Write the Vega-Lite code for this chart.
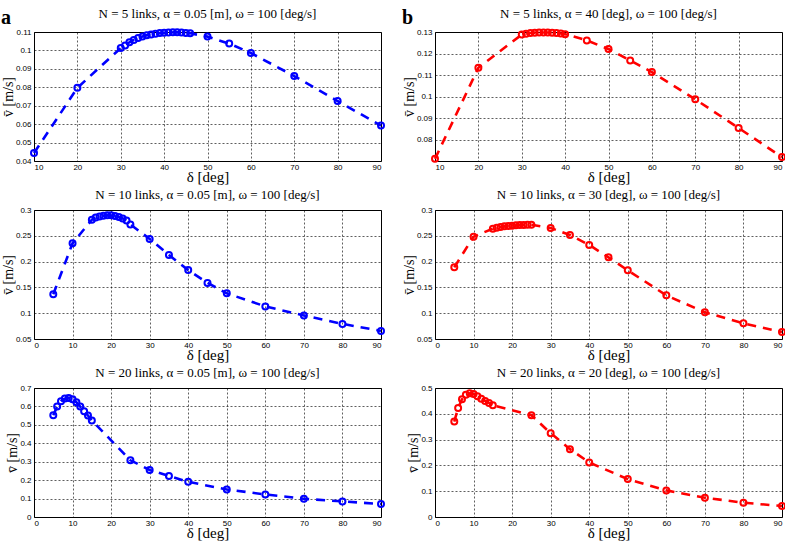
{
  "$schema": "https://vega.github.io/schema/vega-lite/v6.json",
  "background": "white",
  "padding": {"left": 0, "top": 7, "right": 0, "bottom": 0},
  "spacing": 12,
  "config": {
    "view": {"stroke": "black", "strokeWidth": 1},
    "axis": {
      "grid": true, "gridColor": "black", "gridDash": [2, 2], "gridOpacity": 0.9, "gridWidth": 0.7,
      "domain": false, "ticks": false, "labelPadding": 3,
      "labelFont": "Liberation Sans", "labelFontSize": 8, "labelColor": "black",
      "titleFont": "Liberation Serif", "titleFontWeight": "normal", "titleFontSize": 15, "titleColor": "black"
    },
    "axisX": {"titlePadding": -2, "labelPadding": 2},
    "axisY": {"titlePadding": 0, "titleFontSize": 14},
    "title": {"font": "Liberation Serif", "fontSize": 13, "fontWeight": "normal", "color": "black", "offset": 4},
    "line": {"strokeWidth": 2.6, "strokeDash": [9, 7]},
    "point": {"filled": false, "size": 36, "strokeWidth": 2, "opacity": 1}
  },
  "datasets": {
    "a1": [
      {"delta": 10, "v": 0.0443}, {"delta": 20, "v": 0.0797}, {"delta": 30, "v": 0.1013},
      {"delta": 31, "v": 0.1027}, {"delta": 32, "v": 0.1044}, {"delta": 33, "v": 0.1057},
      {"delta": 34, "v": 0.1067}, {"delta": 35, "v": 0.1075}, {"delta": 36, "v": 0.1082},
      {"delta": 37, "v": 0.1087}, {"delta": 38, "v": 0.1091}, {"delta": 39, "v": 0.1094},
      {"delta": 40, "v": 0.1096}, {"delta": 41, "v": 0.1097}, {"delta": 42, "v": 0.1098},
      {"delta": 43, "v": 0.1098}, {"delta": 44, "v": 0.1097}, {"delta": 45, "v": 0.1095},
      {"delta": 46, "v": 0.1093}, {"delta": 50, "v": 0.1075}, {"delta": 55, "v": 0.1037},
      {"delta": 60, "v": 0.0986}, {"delta": 70, "v": 0.0861}, {"delta": 80, "v": 0.0725},
      {"delta": 90, "v": 0.0592}
    ],
    "a2": [
      {"delta": 5, "v": 0.1366}, {"delta": 10, "v": 0.2355}, {"delta": 15, "v": 0.2811},
      {"delta": 16, "v": 0.2857}, {"delta": 17, "v": 0.2876}, {"delta": 18, "v": 0.2889},
      {"delta": 19, "v": 0.2896}, {"delta": 20, "v": 0.2896}, {"delta": 21, "v": 0.2883},
      {"delta": 22, "v": 0.2863}, {"delta": 23, "v": 0.2837}, {"delta": 24, "v": 0.2798},
      {"delta": 25, "v": 0.272}, {"delta": 30, "v": 0.244}, {"delta": 35, "v": 0.2128},
      {"delta": 40, "v": 0.1835}, {"delta": 45, "v": 0.1587}, {"delta": 50, "v": 0.1385},
      {"delta": 60, "v": 0.1132}, {"delta": 70, "v": 0.0956}, {"delta": 80, "v": 0.0793},
      {"delta": 90, "v": 0.0656}
    ],
    "a3": [
      {"delta": 5, "v": 0.5524}, {"delta": 6, "v": 0.5992}, {"delta": 7, "v": 0.628},
      {"delta": 8, "v": 0.6424}, {"delta": 9, "v": 0.646}, {"delta": 10, "v": 0.6388},
      {"delta": 11, "v": 0.6226}, {"delta": 12, "v": 0.5992}, {"delta": 13, "v": 0.574},
      {"delta": 14, "v": 0.5506}, {"delta": 15, "v": 0.5236}, {"delta": 25, "v": 0.3077},
      {"delta": 30, "v": 0.2555}, {"delta": 35, "v": 0.2231}, {"delta": 40, "v": 0.1907},
      {"delta": 50, "v": 0.1493}, {"delta": 60, "v": 0.1223}, {"delta": 70, "v": 0.099},
      {"delta": 80, "v": 0.0846}, {"delta": 90, "v": 0.0702}
    ],
    "b1": [
      {"delta": 10, "v": 0.0712}, {"delta": 20, "v": 0.1134}, {"delta": 30, "v": 0.1288},
      {"delta": 31, "v": 0.1292}, {"delta": 32, "v": 0.1295}, {"delta": 33, "v": 0.1297},
      {"delta": 34, "v": 0.1298}, {"delta": 35, "v": 0.1298}, {"delta": 36, "v": 0.1298},
      {"delta": 37, "v": 0.1297}, {"delta": 38, "v": 0.1295}, {"delta": 39, "v": 0.1293},
      {"delta": 40, "v": 0.129}, {"delta": 45, "v": 0.1261}, {"delta": 50, "v": 0.1221},
      {"delta": 55, "v": 0.1168}, {"delta": 60, "v": 0.1114}, {"delta": 70, "v": 0.0988},
      {"delta": 80, "v": 0.0855}, {"delta": 90, "v": 0.072}
    ],
    "b2": [
      {"delta": 5, "v": 0.1889}, {"delta": 10, "v": 0.2483}, {"delta": 15, "v": 0.2638},
      {"delta": 16, "v": 0.2658}, {"delta": 17, "v": 0.267}, {"delta": 18, "v": 0.2683},
      {"delta": 19, "v": 0.269}, {"delta": 20, "v": 0.2696}, {"delta": 21, "v": 0.2703},
      {"delta": 22, "v": 0.2709}, {"delta": 23, "v": 0.2711}, {"delta": 24, "v": 0.2712},
      {"delta": 25, "v": 0.2716}, {"delta": 30, "v": 0.2651}, {"delta": 35, "v": 0.2516},
      {"delta": 40, "v": 0.2322}, {"delta": 45, "v": 0.2083}, {"delta": 50, "v": 0.1831},
      {"delta": 60, "v": 0.1346}, {"delta": 70, "v": 0.1017}, {"delta": 80, "v": 0.0804},
      {"delta": 90, "v": 0.0636}
    ],
    "b3": [
      {"delta": 5, "v": 0.3698}, {"delta": 6, "v": 0.4227}, {"delta": 7, "v": 0.4562},
      {"delta": 8, "v": 0.4742}, {"delta": 9, "v": 0.4794}, {"delta": 10, "v": 0.4768},
      {"delta": 11, "v": 0.4678}, {"delta": 12, "v": 0.4588}, {"delta": 13, "v": 0.4497},
      {"delta": 14, "v": 0.442}, {"delta": 15, "v": 0.433}, {"delta": 25, "v": 0.3943},
      {"delta": 30, "v": 0.3247}, {"delta": 35, "v": 0.2629}, {"delta": 40, "v": 0.2113},
      {"delta": 50, "v": 0.1469}, {"delta": 60, "v": 0.1031}, {"delta": 70, "v": 0.0747},
      {"delta": 80, "v": 0.0554}, {"delta": 90, "v": 0.0425}
    ]
  },
  "hconcat": [
    {
      "title": {"text": "a", "anchor": "start", "frame": "bounds", "font": "Liberation Serif", "fontSize": 20, "fontWeight": "bold", "offset": -20},
      "spacing": 3,
      "vconcat": [
        {
          "width": 347, "height": 129,
          "title": "N = 5 links, α = 0.05 [m], ω = 100 [deg/s]",
          "data": {"name": "a1"},
          "encoding": {
            "x": {"field": "delta", "type": "quantitative", "scale": {"domain": [10, 90], "nice": false}, "axis": {"title": "δ [deg]", "values": [10, 20, 30, 40, 50, 60, 70, 80, 90]}},
            "y": {"field": "v", "type": "quantitative", "scale": {"domain": [0.04, 0.11], "nice": false, "zero": false}, "axis": {"title": "v̄ [m/s]", "values": [0.04, 0.05, 0.06, 0.07, 0.08, 0.09, 0.1, 0.11], "format": "~g"}}
          },
          "layer": [
            {"mark": {"type": "line", "color": "#0000ff"}},
            {"mark": {"type": "point", "color": "#0000ff"}}
          ]
        },
        {
          "width": 347, "height": 129,
          "title": "N = 10 links, α = 0.05 [m], ω = 100 [deg/s]",
          "data": {"name": "a2"},
          "encoding": {
            "x": {"field": "delta", "type": "quantitative", "scale": {"domain": [0, 90], "nice": false}, "axis": {"title": "δ [deg]", "values": [0, 10, 20, 30, 40, 50, 60, 70, 80, 90]}},
            "y": {"field": "v", "type": "quantitative", "scale": {"domain": [0.05, 0.3], "nice": false, "zero": false}, "axis": {"title": "v̄ [m/s]", "values": [0.05, 0.1, 0.15, 0.2, 0.25, 0.3], "format": "~g"}}
          },
          "layer": [
            {"mark": {"type": "line", "color": "#0000ff"}},
            {"mark": {"type": "point", "color": "#0000ff"}}
          ]
        },
        {
          "width": 347, "height": 129,
          "title": "N = 20 links, α = 0.05 [m], ω = 100 [deg/s]",
          "data": {"name": "a3"},
          "encoding": {
            "x": {"field": "delta", "type": "quantitative", "scale": {"domain": [0, 90], "nice": false}, "axis": {"title": "δ [deg]", "values": [0, 10, 20, 30, 40, 50, 60, 70, 80, 90]}},
            "y": {"field": "v", "type": "quantitative", "scale": {"domain": [0, 0.7], "nice": false}, "axis": {"title": "v̄ [m/s]", "values": [0, 0.1, 0.2, 0.3, 0.4, 0.5, 0.6, 0.7], "format": "~g"}}
          },
          "layer": [
            {"mark": {"type": "line", "color": "#0000ff"}},
            {"mark": {"type": "point", "color": "#0000ff"}}
          ]
        }
      ]
    },
    {
      "title": {"text": "b", "anchor": "start", "frame": "bounds", "font": "Liberation Serif", "fontSize": 20, "fontWeight": "bold", "offset": -20},
      "spacing": 3,
      "vconcat": [
        {
          "width": 347, "height": 129,
          "title": "N = 5 links, α = 40 [deg], ω = 100 [deg/s]",
          "data": {"name": "b1"},
          "encoding": {
            "x": {"field": "delta", "type": "quantitative", "scale": {"domain": [10, 90], "nice": false}, "axis": {"title": "δ [deg]", "values": [10, 20, 30, 40, 50, 60, 70, 80, 90]}},
            "y": {"field": "v", "type": "quantitative", "scale": {"domain": [0.0702, 0.13], "nice": false, "zero": false}, "axis": {"title": "v̄ [m/s]", "values": [0.08, 0.09, 0.1, 0.11, 0.12, 0.13], "format": "~g"}}
          },
          "layer": [
            {"mark": {"type": "line", "color": "#ff0000"}},
            {"mark": {"type": "point", "color": "#ff0000"}}
          ]
        },
        {
          "width": 347, "height": 129,
          "title": "N = 10 links, α = 30 [deg], ω = 100 [deg/s]",
          "data": {"name": "b2"},
          "encoding": {
            "x": {"field": "delta", "type": "quantitative", "scale": {"domain": [0, 90], "nice": false}, "axis": {"title": "δ [deg]", "values": [0, 10, 20, 30, 40, 50, 60, 70, 80, 90]}},
            "y": {"field": "v", "type": "quantitative", "scale": {"domain": [0.05, 0.3], "nice": false, "zero": false}, "axis": {"title": "v̄ [m/s]", "values": [0.05, 0.1, 0.15, 0.2, 0.25, 0.3], "format": "~g"}}
          },
          "layer": [
            {"mark": {"type": "line", "color": "#ff0000"}},
            {"mark": {"type": "point", "color": "#ff0000"}}
          ]
        },
        {
          "width": 347, "height": 129,
          "title": "N = 20 links, α = 20 [deg], ω = 100 [deg/s]",
          "data": {"name": "b3"},
          "encoding": {
            "x": {"field": "delta", "type": "quantitative", "scale": {"domain": [0, 90], "nice": false}, "axis": {"title": "δ [deg]", "values": [0, 10, 20, 30, 40, 50, 60, 70, 80, 90]}},
            "y": {"field": "v", "type": "quantitative", "scale": {"domain": [0, 0.5], "nice": false}, "axis": {"title": "v̄ [m/s]", "values": [0, 0.1, 0.2, 0.3, 0.4, 0.5], "format": "~g"}}
          },
          "layer": [
            {"mark": {"type": "line", "color": "#ff0000"}},
            {"mark": {"type": "point", "color": "#ff0000"}}
          ]
        }
      ]
    }
  ]
}
